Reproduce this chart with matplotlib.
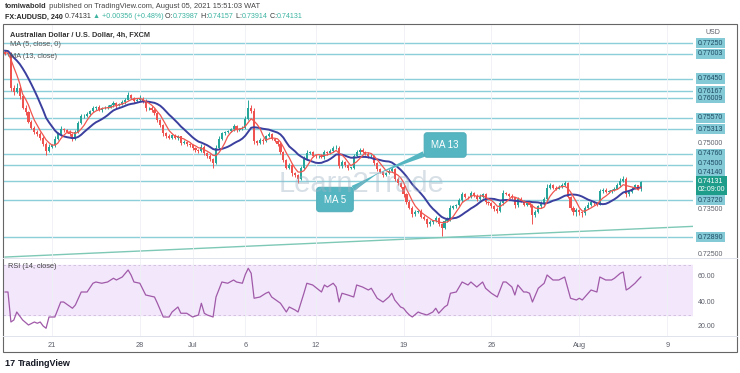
import matplotlib
matplotlib.use("Agg")
import matplotlib.pyplot as plt
from matplotlib.patches import Rectangle
from matplotlib.transforms import blended_transform_factory
import numpy as np
import pandas as pd

W, H = 740, 373
FONT = ["Liberation Sans", "DejaVu Sans"]
plt.rcParams["font.family"] = FONT

# 4h closes in 1e-4 units, trading days only; first candle Jun 16 08:00, last Aug 5 12:00
first_open = 7705
closes = [
    7700, 7702, 7625, 7615,                      # Jun 16
    7625, 7605, 7580, 7570, 7548, 7535,          # Jun 17
    7525, 7520, 7512, 7498, 7482, 7492,          # Jun 18
    7495, 7510, 7520, 7532, 7530, 7525,          # Jun 21
    7520, 7510, 7525, 7545, 7560, 7562,
    7565, 7572, 7580, 7582, 7575, 7578,
    7580, 7582, 7585, 7590, 7585, 7588,
    7592, 7598, 7608, 7602, 7595, 7598,
    7600, 7595, 7578, 7580, 7575, 7568,          # Jun 28
    7552, 7540, 7522, 7515, 7512, 7518,
    7512, 7515, 7500, 7503, 7498, 7495,
    7488, 7485, 7482, 7492, 7478, 7472,          # Jul 1
    7465, 7455, 7490, 7510, 7522, 7525,
    7528, 7532, 7538, 7530, 7532, 7535,          # Jul 5
    7555, 7580, 7572, 7505, 7500, 7508,
    7505, 7515, 7520, 7510, 7505, 7498,
    7480, 7462, 7445, 7450, 7432, 7428,
    7420, 7445, 7465, 7478, 7480, 7472,
    7470, 7472, 7468, 7480, 7478, 7482,          # Jul 12
    7488, 7490, 7448, 7458, 7450, 7445,
    7445, 7470, 7480, 7485, 7480, 7476,
    7470, 7472, 7455, 7442, 7435, 7428,
    7432, 7438, 7442, 7420, 7410, 7402,
    7385, 7368, 7355, 7340, 7345, 7348,          # Jul 19
    7335, 7330, 7318, 7322, 7325, 7332,
    7318, 7310, 7325, 7330, 7355, 7358,
    7360, 7372, 7385, 7380, 7378, 7388,
    7382, 7375, 7380, 7385, 7368, 7365,
    7358, 7352, 7348, 7365, 7388, 7385,          # Jul 26
    7382, 7378, 7360, 7375, 7370, 7362,
    7365, 7360, 7338, 7345, 7358, 7365,
    7375, 7400, 7405, 7400, 7398, 7402,
    7405, 7410, 7380, 7355, 7345, 7350,
    7345, 7342, 7355, 7362, 7368, 7365,          # Aug 2
    7362, 7392, 7395, 7390, 7392, 7395,
    7398, 7405, 7415, 7420, 7385, 7390,
    7398, 7405, 7398.7, 7413.1,                  # Aug 5
]
# wick length beyond the body, pips
hi_ext = [
    4, 3, 2, 6,  10, 5, 4, 6, 3, 4,  3, 5, 4, 3, 4, 6,  3, 5, 4, 6, 3, 2,
    4, 3, 5, 4, 6, 3,  5, 3, 4, 2, 3, 4,  3, 4, 2, 5, 3, 2,  4, 3, 6, 3, 2, 4,
    9, 3, 4, 2, 3, 4,  3, 2, 4, 3, 5, 2,  3, 4, 2, 3, 2, 3,  4, 3, 2, 5, 3, 2,
    3, 2, 6, 5, 4, 3,  2, 3, 4, 3, 2, 3,  6, 18, 5, 8, 3, 4,  3, 4, 6, 3, 2, 3,
    4, 3, 2, 5, 3, 2,  3, 4, 5, 6, 3, 2,  3, 2, 4, 5, 3, 4,  5, 6, 4, 3, 2, 3,
    2, 6, 5, 4, 3, 2,  3, 4, 2, 3, 2, 3,  4, 3, 5, 2, 3, 2,  3, 2, 4, 3, 5, 2,
    3, 4, 2, 5, 3, 4,  3, 2, 5, 4, 6, 3,  4, 5, 6, 3, 2, 5,  3, 4, 5, 3, 2, 3,
    2, 3, 4, 5, 6, 3,  4, 3, 2, 5, 3, 2,  3, 2, 4, 5, 3, 4,  3, 8, 5, 4, 3, 4,
    5, 6, 3, 2, 3, 4,  3, 2, 4, 5, 3, 2,  3, 6, 5, 4, 3, 2,  4, 5, 6, 6, 3, 2,
    3, 4, 2, 2.6,
]
lo_ext = [
    3, 4, 8, 6,  3, 5, 4, 6, 3, 4,  4, 3, 5, 4, 8, 3,  4, 3, 2, 5, 4, 3,
    3, 6, 4, 3, 2, 4,  3, 4, 2, 5, 3, 4,  2, 3, 4, 3, 5, 2,  3, 4, 2, 3, 5, 3,
    3, 4, 5, 3, 4, 5,  4, 3, 5, 4, 3, 2,  3, 4, 5, 3, 4, 3,  3, 4, 5, 3, 4, 5,
    5, 10, 3, 4, 2, 3,  3, 2, 4, 5, 3, 2,  3, 4, 5, 6, 4, 3,  6, 3, 2, 4, 3, 5,
    4, 5, 3, 4, 6, 5,  10, 3, 4, 2, 3, 4,  3, 4, 2, 3, 4, 2,  3, 2, 5, 4, 3, 5,
    4, 3, 2, 4, 3, 2,  3, 2, 4, 5, 3, 4,  3, 2, 4, 5, 4, 3,  5, 4, 3, 6, 3, 2,
    4, 3, 6, 4, 3, 2,  4, 18, 3, 2, 4, 3,  3, 2, 4, 3, 4, 2,  3, 4, 2, 3, 5, 4,
    3, 5, 6, 2, 3, 2,  3, 4, 5, 3, 2, 4,  3, 4, 20, 3, 2, 3,  4, 2, 3, 4, 3, 2,
    3, 2, 4, 5, 6, 8,  6, 8, 3, 2, 4, 3,  3, 2, 4, 3, 2, 4,  3, 2, 4, 3, 5, 4,
    3, 2, 4, 7.3,
]
# closes before the visible window, only feed the moving averages
warmup = [7712, 7715, 7718, 7710, 7705, 7708, 7712, 7706, 7702, 7700, 7704, 7708]

rsi_at = [0, 1, 2, 3, 4, 6, 8, 10, 11, 12, 13, 14, 15, 17, 19, 20, 23, 24, 26, 28,
          30, 31, 33, 35, 37, 38, 40, 42, 43, 44, 46, 48, 51, 52, 54, 56, 57, 59, 60,
          62, 64, 66, 67, 68, 69, 71, 72, 74, 76, 78, 79, 81, 82, 83, 84, 85, 87, 89,
          90, 91, 94, 96, 97, 99, 100, 102, 103, 105, 108, 109, 110, 112, 113, 114,
          115, 117, 119, 120, 122, 124, 125, 127, 129, 131, 132, 133, 135, 136, 137,
          138, 139, 141, 142, 144, 146, 147, 148, 150, 151, 152, 154, 156, 158, 159,
          161, 163, 164, 166, 168, 170, 171, 173, 174, 175, 177, 178, 179, 180, 182,
          184, 185, 187, 189, 191, 193, 195, 196, 197, 199, 200, 202, 203, 205, 207,
          208, 210, 211, 212, 213, 215, 216, 217]
rsi_val = [48, 48, 24, 25.6, 32, 25.6, 21.6, 24, 23, 24, 20.8, 19, 28, 28, 40, 40, 35,
           37.6, 48, 48, 55, 56, 55, 56, 59, 57.6, 60, 65.6, 61.6, 56, 55, 45.6, 44, 39,
           28, 28, 32, 36, 31, 31, 28, 29.6, 39, 31, 29.6, 28, 44, 56, 55, 57.6, 56, 55,
           62, 67, 63, 43, 44, 47, 48, 44, 39, 32, 36, 33.6, 32, 47, 55, 53.6, 48, 53.6,
           52, 55, 52, 40, 47, 45.6, 44, 53.6, 52, 49.6, 51, 43, 40, 44, 47, 41.6, 36,
           35, 32, 29.6, 28, 32, 31, 29.6, 32, 35, 31, 36, 37.6, 47, 48, 56, 53.6, 56,
           52, 56, 51, 47, 44, 56, 56, 52, 45.6, 53.6, 48, 48, 47, 40, 51, 55, 61.6,
           57.6, 57.6, 60, 43, 41.6, 43, 41.6, 47, 49.6, 48, 60, 57.6, 57.6, 59, 63, 64,
           49.6, 51, 55, 57.6, 60]

levels = [0.77250, 0.77003, 0.76450, 0.76167, 0.76009, 0.75570, 0.75313,
          0.74760, 0.74500, 0.74140, 0.73720, 0.72890]
plain_ticks = [0.75000, 0.73500, 0.72500]
trend_at = [0, 235]
trend_px = [0.7244, 0.7313]

date_at = [16, 46, 64, 82, 106, 136, 166, 196, 226]
date_lbl = ["21", "28", "Jul", "6", "12", "19", "26", "Aug", "9"]

GREEN, RED = "#26a69a", "#ef5350"
LEVEL, LABEL_BG, LABEL_FG = "#8ccfdb", "#84cad6", "#1d4a63"
GRAY = "#5d606b"


def fx(px):
    return px / W


def fy(py):
    return 1 - py / H


def text_run(fig, x, y, parts, size):
    """Draw coloured text pieces one after another on a single line."""
    r = fig.canvas.get_renderer()
    for s, color, weight in parts:
        t = fig.text(fx(x), fy(y), s, fontsize=size, color=color,
                     weight=weight, va="center", ha="left")
        x += t.get_window_extent(r).width


fig = plt.figure(figsize=(W / 100, H / 100), dpi=100)
fig.patch.set_facecolor("white")

ax = fig.add_axes([fx(3), fy(258), 690 / W, 234 / H])
ax_rsi = fig.add_axes([fx(3), fy(336), 690 / W, 78 / H])
for a in (ax, ax_rsi):
    for sp in a.spines.values():
        sp.set_visible(False)
    a.set_xlim(-0.7, 234.8)
    a.set_xticks(date_at)
    a.set_yticks([])
    a.grid(axis="x", color="#eef0f4", lw=0.6, zorder=0)
    a.tick_params(length=0)
ax.tick_params(labelbottom=False)
ax_rsi.set_xticklabels(date_lbl, fontsize=5.3, color=GRAY)
ax_rsi.tick_params(axis="x", pad=4)
ax.set_ylim(0.724185, 0.776770)
ax_rsi.set_ylim(12.8, 75.2)

# ── main pane ──────────────────────────────────────────────────────────
for v in levels:
    ax.axhline(v, color=LEVEL, lw=1.0, zorder=1)
ax.plot(trend_at, trend_px, color="#7ec8b6", lw=1.0, zorder=1)

c = np.array(closes) / 1e4
o = np.r_[first_open / 1e4, c[:-1]]
hi = np.maximum(o, c) + np.array(hi_ext) / 1e4
lo = np.minimum(o, c) - np.array(lo_ext) / 1e4
x = np.arange(len(c))
col = np.where(c >= o, GREEN, RED)
ax.vlines(x, lo, hi, colors=col, lw=0.7, zorder=3)
ax.bar(x, np.maximum(np.abs(c - o), 0.00006), bottom=np.minimum(o, c),
       width=0.72, color=col, lw=0, zorder=3)

s = pd.Series(np.r_[warmup, closes]) / 1e4
ma5 = s.rolling(5, min_periods=1).mean().to_numpy()[len(warmup):]
ma13 = s.rolling(13, min_periods=1).mean().to_numpy()[len(warmup):]
ax.plot(x, ma13, color="#3b3f9e", lw=1.4, zorder=4)
ax.plot(x, ma5, color="#f0564f", lw=0.9, zorder=5)

fig.text(fx(362), fy(184), "Learn2Trade", fontsize=21, color="#9fb3c4",
         alpha=0.4, ha="center", va="center", zorder=6)

callout = dict(boxstyle="round,pad=0.75,rounding_size=0.3", fc="#55b6c2", ec="#4aa9b5", lw=0.6)
wedge = dict(arrowstyle="wedge,tail_width=0.6,shrink_factor=0.4", fc="#55b6c2",
             ec="none", shrinkA=0, shrinkB=0)
ax.annotate("MA 13", xy=(125.3, 0.74261), xytext=(150.2, 0.74958), fontsize=7,
            color="white", ha="center", va="center", bbox=callout, arrowprops=wedge, zorder=7)
ax.annotate("MA 5", xy=(128.0, 0.74351), xytext=(112.6, 0.73733), fontsize=7,
            color="white", ha="center", va="center", bbox=callout, arrowprops=wedge, zorder=7)

# price scale
tr = blended_transform_factory(ax.transAxes, ax.transData)
shown_at = {0.74500: 0.74550, 0.74140: 0.74351}
for v in levels:
    ax.text(1.007, shown_at.get(v, v), f"{v:.5f}", transform=tr, fontsize=5,
            color=LABEL_FG, ha="left", va="center", clip_on=False,
            bbox=dict(boxstyle="square,pad=0.25", fc=LABEL_BG, ec="none"))
for v in plain_ticks:
    ax.text(1.007, v, f"{v:.5f}", transform=tr, fontsize=5, color=GRAY,
            ha="left", va="center", clip_on=False)
ax.annotate(f"{c[-1]:.5f}\n02:09:00", xy=(1.007, c[-1]), xycoords=tr,
            xytext=(0, 3), textcoords="offset points", fontsize=5, color="white",
            ha="left", va="top", linespacing=1.35, annotation_clip=False,
            bbox=dict(boxstyle="square,pad=0.3", fc="#1e9e8a", ec="none"))
fig.text(fx(706), fy(32), "USD", fontsize=5, color=GRAY, va="center")

# ── RSI pane ───────────────────────────────────────────────────────────
ax_rsi.axhspan(30, 70, color="#f3e7fc", zorder=0)
for v in (30, 70):
    ax_rsi.axhline(v, color="#cdbddc", lw=0.6, ls=(0, (3, 3)), zorder=1)
ax_rsi.plot(rsi_at, rsi_val, color="#a05aa8", lw=0.9, zorder=3)
tr_r = blended_transform_factory(ax_rsi.transAxes, ax_rsi.transData)
for v in (60, 40, 20):
    ax_rsi.text(1.007, v, f"{v:.2f}", transform=tr_r, fontsize=5, color=GRAY,
                ha="left", va="center", clip_on=False)

# separators and outer frame
for py in (258, 336):
    fig.add_artist(plt.Line2D([fx(3), fx(737)], [fy(py), fy(py)], color="#e0e3eb", lw=0.7))
fig.add_artist(Rectangle((fx(3), fy(352)), 734 / W, 328 / H, transform=fig.transFigure,
                         fill=False, ec="#666666", lw=0.8))

# ── header texts ───────────────────────────────────────────────────────
text_run(fig, 5, 7, [("tomiwabold", "#333", "bold"),
                     (" published on TradingView.com, August 05, 2021 15:51:03 WAT", "#444", "normal")], 5.4)
UP = "#3bb3a0"
text_run(fig, 5, 17, [("FX:AUDUSD, 240", "#222", "bold"), (" 0.74131 ", "#333", "normal"),
                      ("\u25b2 +0.00356 (+0.48%)", UP, "normal"),
                      (" O:", "#333", "normal"), ("0.73987", UP, "normal"),
                      (" H:", "#333", "normal"), ("0.74157", UP, "normal"),
                      (" L:", "#333", "normal"), ("0.73914", UP, "normal"),
                      (" C:", "#333", "normal"), ("0.74131", UP, "normal")], 5.1)
fig.text(fx(10), fy(35), "Australian Dollar / U.S. Dollar, 4h, FXCM", fontsize=5.3,
         weight="bold", color="#333", va="center")
fig.text(fx(10), fy(45), "MA (5, close, 0)", fontsize=5.3, color="#555", va="center")
fig.text(fx(10), fy(56), "MA (13, close)", fontsize=5.3, color="#555", va="center")
fig.text(fx(8), fy(266), "RSI (14, close)", fontsize=5.3, color="#444", va="center")
text_run(fig, 5, 363, [("17 ", "#131722", "bold"), ("TradingView", "#131722", "bold")], 6.5)

fig.savefig("out.png", dpi=100, facecolor="white")
